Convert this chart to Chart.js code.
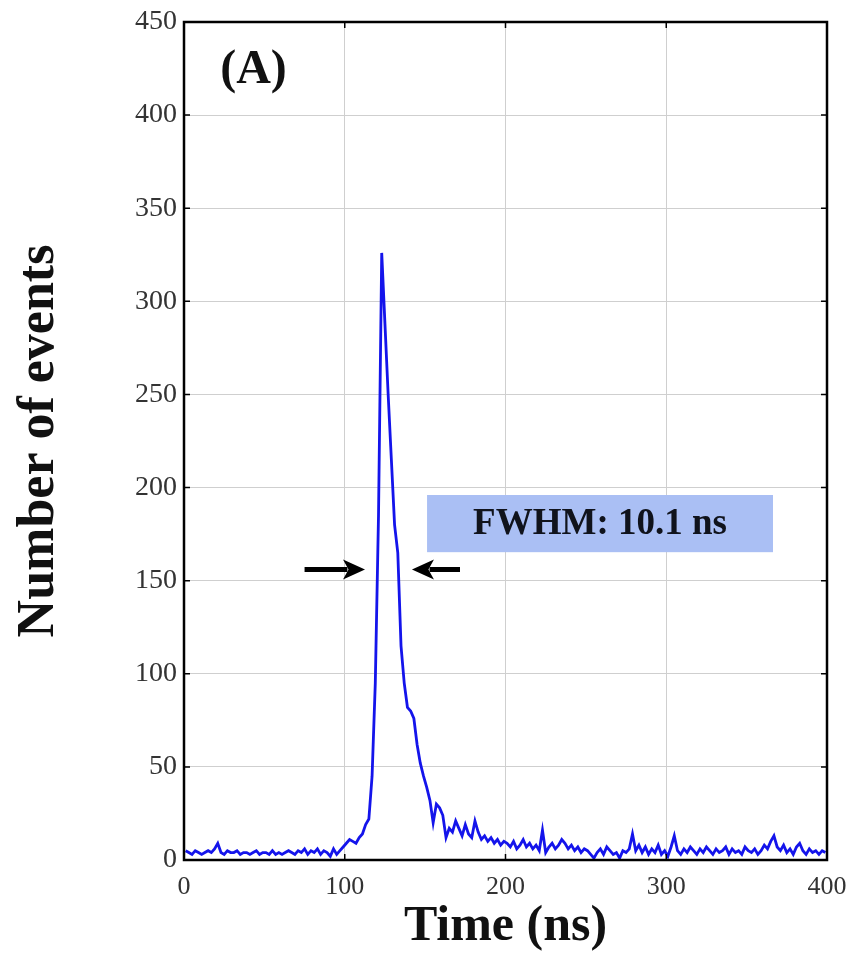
<!DOCTYPE html>
<html>
<head>
<meta charset="utf-8">
<title>Time distribution of events</title>
<style>
  html, body { margin: 0; padding: 0; background: #ffffff; }
  #wrap { width: 853px; height: 959px; }
</style>
<script src="https://cdn.jsdelivr.net/npm/chart.js@4/dist/chart.umd.min.js"></script>
</head>
<body>
<div id="wrap"><canvas id="chart" width="853" height="959"></canvas></div>
<script>
// Histogram of event arrival times, 2 ns bins from 0 to 400 ns
const binWidth = 2;
const counts = [
  // 0 - 100 ns
  5, 4, 3, 5, 4, 3, 4, 5, 4, 6,
  9, 4, 3, 5, 4, 4, 5, 3, 4, 4,
  3, 4, 5, 3, 4, 4, 3, 5, 3, 4,
  3, 4, 5, 4, 3, 5, 4, 6, 3, 5,
  4, 6, 3, 5, 4, 2, 6, 3, 5, 7,
  // 100 - 200 ns
  9, 11, 10, 9, 12, 14, 19, 22, 45, 95,
  185, 326, 288, 250, 215, 180, 165, 115, 95, 82,
  80, 76, 62, 52, 45, 39, 32, 20, 30, 28,
  24, 12, 17, 15, 21, 17, 13, 19, 14, 12,
  21, 15, 11, 13, 10, 12, 9, 11, 8, 10,
  // 200 - 300 ns
  9, 7, 10, 6, 8, 11, 7, 9, 6, 8,
  5, 16, 4, 7, 9, 6, 8, 11, 9, 6,
  8, 5, 7, 4, 6, 5, 3, 1, 4, 6,
  3, 7, 5, 3, 4, 1, 5, 4, 6, 14,
  5, 8, 4, 7, 3, 6, 4, 8, 3, 5,
  // 300 - 400 ns
  2, 7, 13, 5, 3, 6, 4, 7, 5, 3,
  6, 4, 7, 5, 3, 6, 4, 5, 7, 3,
  6, 4, 5, 3, 7, 5, 4, 6, 3, 5,
  8, 6, 10, 13, 7, 5, 8, 4, 6, 3,
  7, 9, 5, 3, 6, 4, 5, 3, 5, 4
];
// Bin centres in ns
const times = counts.map((_, i) => binWidth * i + binWidth / 2);

const xTicks = [0, 100, 200, 300, 400];
const yTicks = [0, 50, 100, 150, 200, 250, 300, 350, 400, 450];

const panelLabel = '(A)';
const fwhmLabel = 'FWHM: 10.1 ns';

// Annotation placement in data units
const fwhmNote = {
  boxX: [151.2, 366.4], boxY: [165.3, 196],
  arrowLevel: 156,
  leftArrow: [75, 112.6],    // tail, tip
  rightArrow: [171.7, 141.8] // tail, tip
};
const labelPos = { x: 22.5, y: 424 };

const serif = "'Liberation Serif', 'Times New Roman', serif";

const framePlugin = {
  id: 'frameAndNotes',
  afterDraw(chart) {
    const { ctx, chartArea: a, scales: { x, y } } = chart;
    ctx.save();

    // inward tick marks on all four sides
    ctx.strokeStyle = '#000';
    ctx.lineWidth = 1.5;
    const tl = 6;
    xTicks.forEach(v => {
      const px = x.getPixelForValue(v);
      ctx.beginPath();
      ctx.moveTo(px, a.bottom); ctx.lineTo(px, a.bottom - tl);
      ctx.moveTo(px, a.top); ctx.lineTo(px, a.top + tl);
      ctx.stroke();
    });
    yTicks.forEach(v => {
      const py = y.getPixelForValue(v);
      ctx.beginPath();
      ctx.moveTo(a.left, py); ctx.lineTo(a.left + tl, py);
      ctx.moveTo(a.right, py); ctx.lineTo(a.right - tl, py);
      ctx.stroke();
    });

    // axes frame
    ctx.lineWidth = 2.5;
    ctx.strokeRect(a.left, a.top, a.right - a.left, a.bottom - a.top);

    // panel label
    ctx.fillStyle = '#111';
    ctx.font = 'bold 48px ' + serif;
    ctx.textAlign = 'left';
    ctx.textBaseline = 'middle';
    ctx.fillText(panelLabel, x.getPixelForValue(labelPos.x), y.getPixelForValue(labelPos.y));

    // FWHM box
    const bx0 = x.getPixelForValue(fwhmNote.boxX[0]);
    const bx1 = x.getPixelForValue(fwhmNote.boxX[1]);
    const by0 = y.getPixelForValue(fwhmNote.boxY[1]);
    const by1 = y.getPixelForValue(fwhmNote.boxY[0]);
    ctx.fillStyle = '#aabff4';
    ctx.fillRect(bx0, by0, bx1 - bx0, by1 - by0);
    ctx.fillStyle = '#10131c';
    ctx.font = 'bold 37px ' + serif;
    ctx.textAlign = 'center';
    ctx.fillText(fwhmLabel, (bx0 + bx1) / 2, (by0 + by1) / 2 + 1);

    // arrows marking the half-maximum width
    const ay = y.getPixelForValue(fwhmNote.arrowLevel);
    const drawArrow = (tailV, tipV) => {
      const tx = x.getPixelForValue(tailV);
      const hx = x.getPixelForValue(tipV);
      const dir = Math.sign(hx - tx);
      const headLen = 22, headHalf = 10;
      ctx.strokeStyle = '#000';
      ctx.lineWidth = 5;
      ctx.beginPath();
      ctx.moveTo(tx, ay);
      ctx.lineTo(hx - dir * headLen * 0.8, ay);
      ctx.stroke();
      ctx.fillStyle = '#000';
      ctx.beginPath();
      ctx.moveTo(hx, ay);
      ctx.lineTo(hx - dir * headLen, ay - headHalf);
      ctx.lineTo(hx - dir * headLen * 0.75, ay);
      ctx.lineTo(hx - dir * headLen, ay + headHalf);
      ctx.closePath();
      ctx.fill();
    };
    drawArrow(fwhmNote.leftArrow[0], fwhmNote.leftArrow[1]);
    drawArrow(fwhmNote.rightArrow[0], fwhmNote.rightArrow[1]);

    ctx.restore();
  }
};

new Chart(document.getElementById('chart'), {
  type: 'line',
  data: {
    datasets: [{
      data: times.map((t, i) => ({ x: t, y: counts[i] })),
      borderColor: 'rgb(20, 20, 235)',
      borderWidth: 2.8,
      pointRadius: 0,
      tension: 0,
      fill: false
    }]
  },
  options: {
    responsive: false,
    devicePixelRatio: 1,
    animation: false,
    layout: { padding: { top: 22, right: 26, left: 0, bottom: 0 } },
    plugins: { legend: { display: false }, tooltip: { enabled: false } },
    scales: {
      x: {
        type: 'linear',
        min: 0, max: 400,
        afterBuildTicks: s => { s.ticks = xTicks.map(v => ({ value: v })); },
        afterFit: s => { s.height = 99; s.paddingLeft = 0; s.paddingRight = 0; },
        grid: { color: '#cfcfcf', lineWidth: 1, drawTicks: false },
        border: { display: false },
        ticks: {
          padding: 12,
          color: '#333',
          font: { family: serif, size: 26 },
          maxRotation: 0
        },
        title: {
          display: true,
          text: 'Time (ns)',
          color: '#111',
          font: { family: serif, size: 50, weight: 'bold' },
          padding: { top: 0, bottom: 2 }
        }
      },
      y: {
        type: 'linear',
        min: 0, max: 450,
        afterBuildTicks: s => { s.ticks = yTicks.map(v => ({ value: v })); },
        afterFit: s => { s.width = 184; s.paddingTop = 0; s.paddingBottom = 0; },
        grid: { color: '#cfcfcf', lineWidth: 1, drawTicks: false },
        border: { display: false },
        ticks: {
          padding: 7,
          color: '#333',
          font: { family: serif, size: 28 }
        },
        title: {
          display: true,
          text: 'Number of events',
          color: '#111',
          font: { family: serif, size: 52, weight: 'bold' },
          padding: { top: 8, bottom: 0 }
        }
      }
    }
  },
  plugins: [framePlugin]
});
</script>
</body>
</html>
